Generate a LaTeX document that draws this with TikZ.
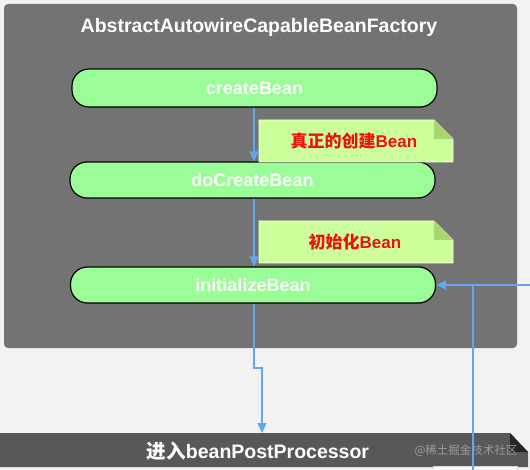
\documentclass[tikz,border=0pt]{standalone}
\usepackage{fontspec}
\setmainfont{Liberation Sans}
\newfontfamily\cjk{Noto Sans CJK SC}
\usetikzlibrary{arrows.meta}
\definecolor{bgc}{HTML}{F2F2F2}
\definecolor{panelc}{HTML}{737373}
\definecolor{barc}{HTML}{585858}
\definecolor{pillc}{HTML}{9AFD98}
\definecolor{notec}{HTML}{CCFF99}
\definecolor{foldc}{HTML}{A6D672}
\definecolor{linec}{HTML}{62A8EE}
\definecolor{redc}{HTML}{EE1111}
\definecolor{wmc}{HTML}{9C9C9C}
\tikzset{
  pill/.style={draw=black, line width=1.2pt, fill=pillc, rounded corners=17pt,
    minimum width=365pt, inner sep=0pt, text=white,
    font=\fontsize{18}{20}\selectfont\bfseries},
  notebox/.style={fill=notec, draw=white!90!notec, line width=0.8pt},
  notetext/.style={text=redc, font=\fontsize{17}{19}\selectfont\bfseries, inner sep=0pt},
  conn/.style={draw=linec, line width=1.4pt},
  arr/.style={conn, -{Triangle[length=10pt,width=9pt]}},
}
\begin{document}
\begin{tikzpicture}[x=1pt,y=-1pt]
\useasboundingbox (0,0) rectangle (530,470);
\fill[bgc] (0,0) rectangle (530,470);
% outer panel
\fill[panelc, rounded corners=4pt] (4,4) rectangle (517,348);
\node[text=white, font=\fontsize{19.5}{22}\selectfont\bfseries, inner sep=0pt] (title) at (259,27) {AbstractAutowireCapableBeanFactory};
% pills
\node[pill, minimum height=38pt] (create) at (254.5,88) {createBean};
\node[pill, minimum height=36pt] (docreate) at (252.5,180) {doCreateBean};
\node[pill, minimum height=36pt] (init) at (253,285) {initializeBean};
% note 1
\path[notebox] (259,120) -- (434,120) -- (453,139) -- (453,162) -- (259,162) -- cycle;
\fill[foldc] (434,120) -- (434,139) -- (453,139) -- cycle;
\node[notetext] (n1) at (354,141) {{\cjk 真正的创建}Bean};
% note 2
\path[notebox] (259,221) -- (434,221) -- (453,240) -- (453,263) -- (259,263) -- cycle;
\fill[foldc] (434,221) -- (434,240) -- (453,240) -- cycle;
\node[notetext] (n2) at (355,242) {{\cjk 初始化}Bean};
% bottom bar
\fill[barc] (0,433) -- (510,433) -- (528,452) -- (528,467) -- (0,467) -- cycle;
\fill[black!85] (510,433) -- (528,452) -- (510,452) -- cycle;
\node[text=white, font=\fontsize{19.5}{22}\selectfont\bfseries, inner sep=0pt] (bar) at (258,451) {{\cjk 进入}beanPostProcessor};
\node[text=wmc, font=\cjk\fontsize{11.5}{13}\selectfont, inner sep=0pt] (wm) at (466,451) {@稀土掘金技术社区};
% cut-off box at the bottom right
\filldraw[fill=white, draw=white!85!black, line width=0.6pt] (433,466) rectangle (517,478);
% connectors
\coordinate (xa) at (254,0);
\coordinate (jog1) at (254,368);
\coordinate (jog2) at (262,368);
\coordinate (bartop) at (262,433);
\draw[arr] (create.south -| xa) -- (docreate.north -| xa);
\draw[arr] (docreate.south -| xa) -- (init.north -| xa);
\draw[arr] (init.south -| xa) -- (jog1) -- (jog2) -- (bartop);
\coordinate (rin) at (531,285);
\coordinate (vtop) at (473,285);
\coordinate (vbot) at (473,471);
\draw[arr] (rin) -- (init.east);
\draw[conn] (vtop) -- (vbot);
\end{tikzpicture}
\end{document}
